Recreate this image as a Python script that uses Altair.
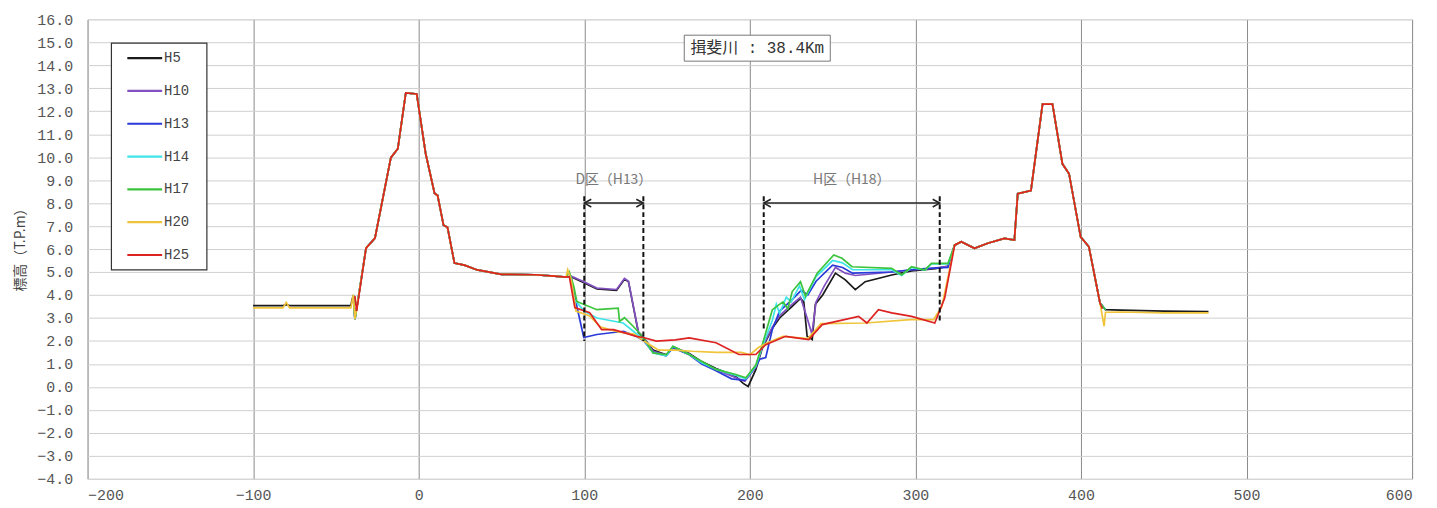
import altair as alt
import pandas as pd

SERIES = ["H5", "H10", "H13", "H14", "H17", "H20", "H25"]
COLORS = ["#1a1a1a", "#8250c0", "#2a3ad8", "#3fe4e8", "#3cc43c", "#f0c43a", "#dd2222"]

# shared ground profile pieces (distance m, elevation T.P.m)
LEFT_FLAT_X = [-100, -82, -80, -78, -41]
LEFT_FLAT_V = [3.54, 3.54, 3.58, 3.54, 3.54]
H20_LEFT_FLAT_V = [3.44, 3.44, 3.68, 3.44, 3.44]
LEFT_JOIN_X = [-39.5, -38.5, -37.5]
LEFT_JOIN_V = [4.0, 2.95, 3.4]
H25_JOIN_X = [-38.5, -37.5]
H25_JOIN_V = [3.95, 3.3]
LEFT_BANK_X = [-31.8, -26.4, -16.8, -12.6, -7.8, -1.2, 4.2, 9.6, 11.4, 15.0, 17.4, 21.6, 27.6, 35.4, 50.0, 70.0, 82.0, 89.0]
LEFT_BANK_V = [6.04, 6.48, 9.98, 10.37, 12.8, 12.75, 10.16, 8.42, 8.34, 7.04, 6.95, 5.39, 5.3, 5.09, 4.9, 4.88, 4.82, 4.78]
RIGHT_BANK_X = [323.7, 327.7, 335.7, 343.7, 353.8, 359.8, 361.8, 369.8, 376.8, 382.8, 388.8, 392.8, 399.8, 404.8, 411.5]
RIGHT_BANK_V = [6.17, 6.32, 6.03, 6.25, 6.46, 6.39, 8.41, 8.55, 12.31, 12.31, 9.71, 9.28, 6.53, 6.1, 3.65]
RIGHT_FLAT_X = [414.8, 424.0, 450.0, 477.0]
RIGHT_FLAT_V = [3.36, 3.34, 3.3, 3.28]
SHORT_END_X = [414.8]
SHORT_END_V = [3.36]
H20_RIGHT_FLAT_X = [414.0, 414.8, 424.0, 450.0, 477.0]
H20_RIGHT_FLAT_V = [2.64, 3.25, 3.26, 3.22, 3.22]
H25_END_X = [413.0]
H25_END_V = [3.4]

# channel section per survey year
H5_X = [92, 98.5, 107.6, 119.5, 124.3, 126.7, 132.7, 135.7, 141.6, 149.5, 153.6, 163.4, 171, 179.6, 191.6, 196, 199, 203.6, 207.6, 213.6, 218, 225.6, 230.6, 232.6, 234.6, 237.7, 239.6, 244, 251.7, 257.7, 263.7, 269.7, 285.7, 297.7, 305.7, 312, 319.7]
H5_V = [4.8, 4.58, 4.26, 4.2, 4.69, 4.58, 2.36, 2.15, 1.6, 1.4, 1.75, 1.45, 1.1, 0.8, 0.45, 0.15, 0.02, 0.75, 1.7, 2.55, 3.0, 3.5, 3.85, 3.7, 2.2, 2.06, 3.6, 4.0, 4.95, 4.66, 4.23, 4.58, 4.87, 5.05, 5.1, 5.15, 5.25]
H10_X = [92, 98.5, 107.6, 119.5, 124.3, 126.7, 132.7, 135.7, 141.6, 149.5, 153.6, 163.4, 171, 179.6, 191.6, 197, 203.6, 207.6, 213.6, 218, 225.6, 230.6, 234.6, 237.5, 240, 245, 251.7, 257.7, 263.7, 285.7, 297.7, 305.7, 319.7]
H10_V = [4.82, 4.62, 4.3, 4.24, 4.72, 4.6, 2.4, 2.18, 1.55, 1.38, 1.72, 1.42, 1.05, 0.75, 0.4, 0.25, 0.85, 1.75, 2.6, 3.1, 3.6, 3.9, 3.0, 2.3, 3.7, 4.4, 5.2, 4.95, 4.85, 5.0, 5.1, 5.12, 5.25]
H13_X = [92, 94, 99.7, 107.6, 123.7, 131.5, 136, 141.6, 149.5, 153.6, 163.4, 171, 179.6, 189, 197, 203.6, 206, 209.6, 213.6, 218, 225.6, 231, 235, 240, 250, 256, 262, 285.7, 297.7, 305.7, 319.7]
H13_V = [4.8, 4.0, 2.15, 2.28, 2.42, 2.2, 2.0, 1.5, 1.35, 1.7, 1.4, 1.0, 0.7, 0.35, 0.28, 0.9, 1.2, 1.28, 2.5, 3.3, 3.8, 4.2, 4.0, 4.6, 5.3, 5.2, 4.95, 5.0, 5.1, 5.15, 5.2]
H14_X = [92, 94, 100, 107.6, 123.5, 130, 136, 141.6, 149.5, 153.6, 163.4, 171, 179.6, 191.6, 197.6, 203.6, 207.6, 213.6, 216, 218, 222, 225, 230, 233, 240, 250, 256, 262, 285.7, 291.7, 297.7, 305.7, 309.7, 319.7]
H14_V = [4.8, 3.8, 3.3, 3.0, 2.78, 2.4, 2.05, 1.48, 1.35, 1.77, 1.41, 1.05, 0.76, 0.5, 0.35, 0.9, 1.77, 2.9, 3.6, 3.2, 3.9, 3.7, 4.4, 3.8, 4.8, 5.5, 5.4, 5.1, 5.1, 4.85, 5.2, 5.08, 5.35, 5.35]
H17_X = [91, 93.7, 95.5, 107.6, 120.5, 121.3, 124.3, 129.5, 135.7, 141.6, 149.5, 153.6, 163.4, 171, 179.6, 191.6, 197.6, 203.6, 207.6, 213.6, 220, 223, 225.6, 230.6, 233.6, 240.7, 250.7, 255.7, 261.7, 285.7, 291.7, 297.7, 305.7, 309.7, 319.7]
H17_V = [5.0, 4.37, 3.72, 3.36, 3.43, 2.85, 3.01, 2.64, 2.15, 1.48, 1.4, 1.77, 1.41, 1.1, 0.76, 0.54, 0.4, 0.95, 1.85, 3.36, 3.7, 3.4, 4.15, 4.58, 3.94, 4.95, 5.74, 5.6, 5.23, 5.16, 4.87, 5.23, 5.09, 5.38, 5.38]
H20_X = [90, 92, 95, 103, 110, 120, 130, 136, 145, 155, 165, 180, 195, 200, 205, 210, 220, 235, 243, 270, 297, 311, 316]
H20_V = [5.1, 4.7, 3.3, 3.1, 2.6, 2.4, 2.3, 2.0, 1.6, 1.6, 1.55, 1.5, 1.5, 1.4, 1.7, 1.9, 2.2, 2.1, 2.75, 2.78, 2.93, 2.93, 3.5]
H25_X = [91, 94.3, 103.3, 110.5, 117.7, 131.5, 135.7, 143.5, 155, 163.4, 179.6, 193.4, 203.6, 209.6, 221.6, 235.6, 243.7, 265.7, 270.7, 277.7, 285.7, 297.7, 311.7, 317.7]
H25_V = [4.8, 3.45, 3.23, 2.49, 2.49, 2.2, 2.15, 1.99, 2.05, 2.13, 1.92, 1.41, 1.41, 1.84, 2.2, 2.06, 2.71, 3.07, 2.78, 3.36, 3.22, 3.07, 2.78, 3.87]

# annotations
ZONE_LABELS = ["D区（H13）", "H区（H18）"]
ZONE_X0 = [100.0, 208.4]
ZONE_X1 = [135.7, 314.7]
ZONE_LEFT_BOTTOM = [2.0, 2.45]
ZONE_RIGHT_BOTTOM = [2.0, 2.85]
ARROW_LEVEL = 8.0
DASH_TOP = 8.3
ZONE_LABEL_LEVEL = 9.0
TITLE_TEXT = "揖斐川 : 38.4Km"
TITLE_BOX_X = [160.4, 248.6]
TITLE_BOX_V = [14.18, 15.31]
Y_TITLE = "標高（T.P.m）"

X_TICKS = [-200, -100, 0, 100, 200, 300, 400, 500, 600]
Y_TICKS = list(range(-4, 17))

# layout (pixels)
PLOT_W, PLOT_H = 1332, 462
X_DOM, Y_DOM = [-200, 600], [-4, 16]


def px_to_x(p):
    return X_DOM[0] + p / PLOT_W * (X_DOM[1] - X_DOM[0])


def py_to_v(p):
    return Y_DOM[1] - p / PLOT_H * (Y_DOM[1] - Y_DOM[0])


def build(name, parts):
    xs, vs = [], []
    for px, pv in parts:
        xs += list(px)
        vs += list(pv)
    return pd.DataFrame({"series": name, "x": xs, "v": vs, "i": range(len(xs))})


full = lambda mx, mv: [(LEFT_FLAT_X, LEFT_FLAT_V), (LEFT_JOIN_X, LEFT_JOIN_V), (LEFT_BANK_X, LEFT_BANK_V),
                       (mx, mv), (RIGHT_BANK_X, RIGHT_BANK_V), (RIGHT_FLAT_X, RIGHT_FLAT_V)]
short = lambda mx, mv: [(LEFT_JOIN_X, LEFT_JOIN_V), (LEFT_BANK_X, LEFT_BANK_V),
                        (mx, mv), (RIGHT_BANK_X, RIGHT_BANK_V), (SHORT_END_X, SHORT_END_V)]
frames = [
    build("H5", full(H5_X, H5_V)),
    build("H10", short(H10_X, H10_V)),
    build("H13", short(H13_X, H13_V)),
    build("H14", short(H14_X, H14_V)),
    build("H17", short(H17_X, H17_V)),
    build("H20", [(LEFT_FLAT_X, H20_LEFT_FLAT_V), (LEFT_JOIN_X, LEFT_JOIN_V), (LEFT_BANK_X, LEFT_BANK_V),
                  (H20_X, H20_V), (RIGHT_BANK_X, RIGHT_BANK_V), (H20_RIGHT_FLAT_X, H20_RIGHT_FLAT_V)]),
    build("H25", [(H25_JOIN_X, H25_JOIN_V), (LEFT_BANK_X, LEFT_BANK_V), (H25_X, H25_V),
                  (RIGHT_BANK_X, RIGHT_BANK_V), (H25_END_X, H25_END_V)]),
]
df = pd.concat(frames, ignore_index=True)

xs = alt.Scale(domain=X_DOM, nice=False, zero=False)
ys = alt.Scale(domain=Y_DOM, nice=False, zero=False)
cs = alt.Scale(domain=SERIES, range=COLORS)

TICK_FONT = "Liberation Mono"
JP_FONT = "Noto Sans CJK JP"

lines = alt.Chart(df).mark_line(strokeWidth=1.7).encode(
    x=alt.X("x:Q", scale=xs, axis=alt.Axis(values=X_TICKS, tickCount=len(X_TICKS), title=None, grid=True,
                                          gridColor="#8a8a8a", gridWidth=1, domain=False, ticks=False,
                                          labelFont=TICK_FONT, labelFontSize=15, labelColor="#555",
                                          labelPadding=9, labelOverlap=False)),
    y=alt.Y("v:Q", scale=ys, axis=alt.Axis(values=Y_TICKS, tickCount=len(Y_TICKS), format=".1f",
                                          title=Y_TITLE, grid=True, gridColor="#d0d0d0", gridWidth=1,
                                          domain=False, ticks=False, labelFont=TICK_FONT, labelFontSize=15,
                                          labelColor="#555", labelPadding=15, labelOverlap=False,
                                          titleFont=JP_FONT, titleFontSize=14, titleFontWeight="normal",
                                          titleColor="#444", titleX=-67, titleY=228, titleAngle=270,
                                          titleAlign="center", titleBaseline="middle")),
    color=alt.Color("series:N", scale=cs, legend=None),
    order=alt.Order("i:Q"),
)

zones = pd.DataFrame({"label": ZONE_LABELS, "x0": ZONE_X0, "x1": ZONE_X1,
                      "lb": ZONE_LEFT_BOTTOM, "rb": ZONE_RIGHT_BOTTOM})
zones["xm"] = (zones["x0"] + zones["x1"]) / 2
zones["top"] = DASH_TOP
zones["arrow"] = ARROW_LEVEL
zones["lab"] = ZONE_LABEL_LEVEL

zbase = alt.Chart(zones)
dash_l = zbase.mark_rule(color="#111", strokeWidth=2, strokeDash=[5, 3]).encode(
    x=alt.X("x0:Q", scale=xs), y=alt.Y("top:Q", scale=ys), y2="lb:Q")
dash_r = zbase.mark_rule(color="#111", strokeWidth=2, strokeDash=[5, 3]).encode(
    x=alt.X("x1:Q", scale=xs), y=alt.Y("top:Q", scale=ys), y2="rb:Q")
arrow = zbase.mark_rule(color="#222", strokeWidth=1.5).encode(
    x=alt.X("x0:Q", scale=xs), x2="x1:Q", y=alt.Y("arrow:Q", scale=ys))
head_l = zbase.mark_point(shape="M1,-0.55L0,0L1,0.55", size=200, filled=False, color="#222",
                          strokeWidth=1.5, opacity=1).encode(
    x=alt.X("x0:Q", scale=xs), y=alt.Y("arrow:Q", scale=ys))
head_r = zbase.mark_point(shape="M-1,-0.55L0,0L-1,0.55", size=200, filled=False, color="#222",
                          strokeWidth=1.5, opacity=1).encode(
    x=alt.X("x1:Q", scale=xs), y=alt.Y("arrow:Q", scale=ys))
zlabels = zbase.mark_text(font=JP_FONT, fontSize=14, color="#777").encode(
    x=alt.X("xm:Q", scale=xs), y=alt.Y("lab:Q", scale=ys), text="label:N")

tbox = pd.DataFrame({"x0": [TITLE_BOX_X[0]], "x1": [TITLE_BOX_X[1]], "y0": [TITLE_BOX_V[0]],
                     "y1": [TITLE_BOX_V[1]], "t": [TITLE_TEXT]})
tbox["xm"] = (tbox["x0"] + tbox["x1"]) / 2
tbox["ym"] = (tbox["y0"] + tbox["y1"]) / 2
title_rect = alt.Chart(tbox).mark_rect(fill="white", stroke="#777", strokeWidth=1).encode(
    x=alt.X("x0:Q", scale=xs), x2="x1:Q", y=alt.Y("y0:Q", scale=ys), y2="y1:Q")
title_text = alt.Chart(tbox).mark_text(font=TICK_FONT + ", " + JP_FONT, fontSize=16, color="#333").encode(
    x=alt.X("xm:Q", scale=xs), y=alt.Y("ym:Q", scale=ys), text="t:N")

# legend box drawn as marks (positions derived from pixel layout)
leg = pd.DataFrame({"series": SERIES, "k": range(len(SERIES))})
leg["v"] = [py_to_v(39 + 33 * k) for k in leg["k"]]
leg["xa"] = px_to_x(40)
leg["xb"] = px_to_x(75)
leg["xt"] = px_to_x(77)
legbox = pd.DataFrame({"x0": [px_to_x(24)], "x1": [px_to_x(120)], "y0": [py_to_v(252)], "y1": [py_to_v(24)]})
leg_rect = alt.Chart(legbox).mark_rect(fill="white", stroke="#333", strokeWidth=1.2).encode(
    x=alt.X("x0:Q", scale=xs), x2="x1:Q", y=alt.Y("y0:Q", scale=ys), y2="y1:Q")
leg_lines = alt.Chart(leg).mark_rule(strokeWidth=2.2).encode(
    x=alt.X("xa:Q", scale=xs), x2="xb:Q", y=alt.Y("v:Q", scale=ys),
    color=alt.Color("series:N", scale=cs, legend=None))
leg_text = alt.Chart(leg).mark_text(align="left", baseline="middle", font=TICK_FONT, fontSize=14,
                                    color="#444").encode(
    x=alt.X("xt:Q", scale=xs), y=alt.Y("v:Q", scale=ys), text="series:N")

chart = alt.layer(lines, dash_l, dash_r, arrow, head_l, head_r, zlabels, title_rect, title_text,
                  leg_rect, leg_lines, leg_text).properties(
    width=PLOT_W, height=PLOT_H,
    autosize=alt.AutoSizeParams(type="none"),
    padding={"left": 80, "top": 10, "right": 17, "bottom": 28},
).configure_view(stroke="#404040", strokeWidth=2).configure(background="white")

chart.save("out.html", embed_options={"renderer": "svg", "actions": False})
